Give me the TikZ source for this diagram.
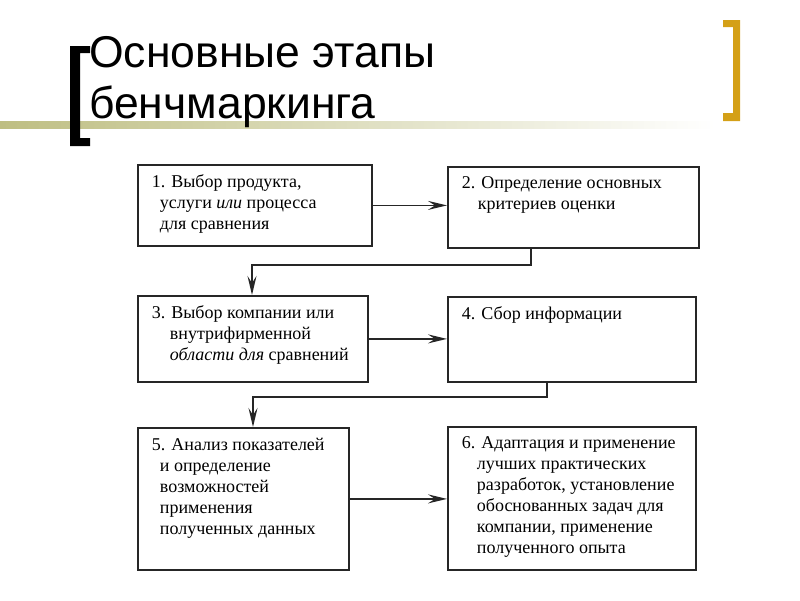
\documentclass[tikz,border=0pt]{standalone}
\usepackage{fontspec}
\setmainfont{Liberation Serif}
\newfontfamily\titlefont{Liberation Sans}
\usetikzlibrary{arrows.meta}

\definecolor{bracketgold}{RGB}{212,160,23}
\definecolor{lineolive}{RGB}{190,190,130}

\tikzset{
  stage/.style={draw=black!85, line width=1.8pt, anchor=north west,
    inner xsep=14pt, inner ysep=10pt, font=\fontsize{18}{21}\selectfont},
  conn/.style={draw=black!85, line width=1.8pt, -{Stealth[length=19pt,width=9pt,inset=7pt]}},
}
% width, height, hanging indent, text
\newcommand{\stagetext}[4]{\parbox[t][#2][t]{#1}{\hangindent=#3\hangafter=1 #4}}

\begin{document}
\begin{tikzpicture}[x=1pt,y=-1pt]
    \useasboundingbox (0,0) rectangle (800,600);

    % Draw title rule and brackets
    \shade[left color=lineolive, right color=white] (0,121) rectangle (715,128);
    \fill[black] (70,46) -- (90,46) -- (90,53) -- (80,53) -- (80,138) -- (90,138)
        -- (90,146) -- (70,146) -- cycle;
    \fill[bracketgold] (740,20) -- (723,20) -- (723,27) -- (733,27) -- (733,113)
        -- (723,113) -- (723,121) -- (740,121) -- cycle;

    % Title
    \node[anchor=base west, align=left, inner sep=0pt,
        font=\titlefont\fontsize{44.5}{51}\selectfont] (title) at (89,118)
        {Основные этапы\\бенчмаркинга};

    % Stages
    \node[stage] (b1) at (137,164) {\stagetext{206pt}{61pt}{8pt}{1. Выбор продукта,\\
        услуги \textit{или} процесса\\ для сравнения}};
    \node[stage] (b2) at (447,166) {\stagetext{223pt}{61pt}{16pt}{2. Определение основных\\
        критериев оценки}};
    \node[stage] (b3) at (137,295) {\stagetext{202pt}{66pt}{18pt}{3. Выбор компании или\\
        внутрифирменной\\ \textit{области для} сравнений}};
    \node[stage] (b4) at (447,296) {\stagetext{220pt}{65pt}{16pt}{4. Сбор информации}};
    \node[stage] (b5) at (137,427) {\stagetext{183pt}{122pt}{8pt}{5. Анализ показателей\\
        и определение\\ возможностей\\ применения\\ полученных данных}};
    \node[stage] (b6) at (447,426) {\stagetext{220pt}{123pt}{15pt}{6. Адаптация и применение\\
        лучших практических\\ разработок, установление\\ обоснованных задач для\\
        компании, применение\\ полученного опыта}};

    % Draw connectors
    \draw[conn] (b1.east) -- (b1.east -| b2.west);
    \draw[conn] (b3.east) -- (b3.east -| b4.west);
    \draw[conn] (b5.east) -- (b5.east -| b6.west);
    \draw[conn] ([xshift=84pt]b2.south west) -- ++(0,16) -| ([xshift=115pt]b3.north west);
    \draw[conn] ([xshift=100pt]b4.south west) -- ++(0,14) -| ([xshift=116pt]b5.north west);
\end{tikzpicture}
\end{document}
